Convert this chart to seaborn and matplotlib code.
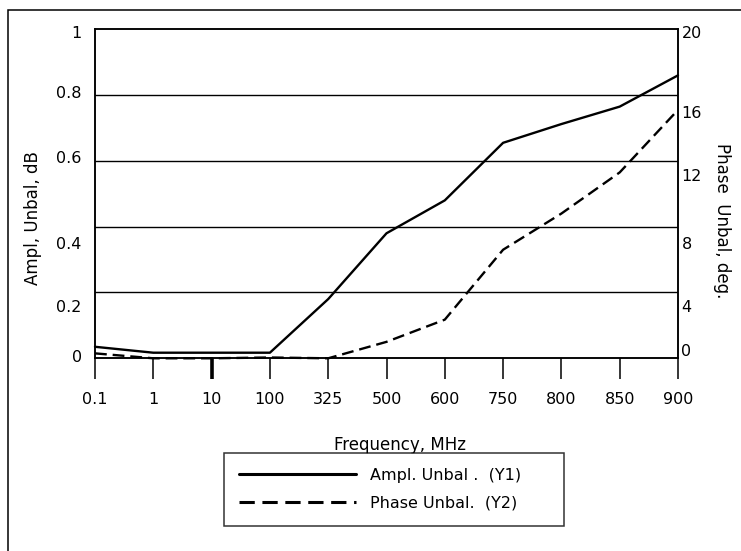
import matplotlib
matplotlib.use("Agg")
import matplotlib.pyplot as plt
import matplotlib.transforms as mtransforms
from matplotlib.patches import Rectangle
import numpy as np
import pandas as pd
import seaborn as sns

# ---- data ----
freq_labels = ["0.1", "1", "10", "100", "325", "500", "600", "750", "800", "850", "900"]
ampl_unbal = [0.035, 0.017, 0.017, 0.017, 0.18, 0.38, 0.48, 0.655, 0.712, 0.765, 0.86]
phase_unbal = [0.3, 0.0, 0.0, 0.05, 0.0, 1.0, 2.35, 6.6, 8.8, 11.3, 15.1]
left_ticks = [0, 0.2, 0.4, 0.6, 0.8, 1.0]
left_tick_labels = ["0", "0.2", "0.4", "0.6", "0.8", "1"]
right_ticks = [0, 4, 8, 12, 16, 20]
right_tick_labels = ["0", "4", "8", "12", "16", "20"]

sns.set_style("white")
plt.rcParams["font.family"] = ["DejaVu Sans"]
plt.rcParams["text.color"] = "black"
plt.rcParams["axes.labelcolor"] = "black"
plt.rcParams["xtick.color"] = "black"
plt.rcParams["ytick.color"] = "black"
plt.rcParams["xtick.labelcolor"] = "black"
plt.rcParams["ytick.labelcolor"] = "black"

df = pd.DataFrame({"Frequency": freq_labels, "Ampl": ampl_unbal, "Phase": phase_unbal})

W, H = 741, 551
fig = plt.figure(figsize=(W / 100, H / 100), dpi=100)
fig.patch.set_facecolor("white")

L, R, T, B = 95, 678, 29.3, 358.3
ax = fig.add_axes([L / W, 1 - B / H, (R - L) / W, (B - T) / H])
ax2 = ax.twinx()

sns.lineplot(data=df, x="Frequency", y="Ampl", ax=ax, color="black", lw=1.7,
             sort=False, label="Ampl. Unbal .  (Y1)", clip_on=False)
sns.lineplot(data=df, x="Frequency", y="Phase", ax=ax2, color="black", lw=1.7,
             sort=False, label="Phase Unbal.  (Y2)", clip_on=False)
ax2.lines[0].set_dashes([5, 2.5])

h1, l1 = ax.get_legend_handles_labels()
h2, l2 = ax2.get_legend_handles_labels()
for a in (ax, ax2):
    if a.get_legend() is not None:
        a.get_legend().remove()

ax.set_xlim(0, len(freq_labels) - 1)
ax.set_ylim(0, 1)
ax2.set_ylim(0, 20)

ax.set_yticks(left_ticks)
ax.set_yticklabels(left_tick_labels)
ax2.set_yticks(right_ticks)
ax2.set_yticklabels(right_tick_labels)

ax.grid(False)
ax2.grid(False)
for v in left_ticks[1:-1]:
    ax.axhline(v, color="black", lw=1.0, zorder=0.5)

for a in (ax, ax2):
    for s in a.spines.values():
        s.set_color("black")
        s.set_linewidth(1.1)
        s.set_visible(True)

ax.tick_params(axis="x", direction="out", length=15, width=1.1, color="black",
               labelcolor="black", labelsize=11.5, pad=9.5, bottom=True)
ax.tick_params(axis="y", length=0, pad=9.5, labelsize=11.5, labelcolor="black")
ax2.tick_params(axis="y", length=0, pad=2.5, labelsize=11.5, labelcolor="black")
ax.xaxis.get_major_ticks()[2].tick1line.set_markeredgewidth(2.6)

# label vertical offsets (pixels, positive = down) as in the reference
left_dy = [-2, 14, 16, -4, -3, 3]
right_dy = [-8, 14, 16, 14, 16.5, 3]
for lbl, dy in zip(ax.get_yticklabels(), left_dy):
    lbl.set_transform(lbl.get_transform() + mtransforms.ScaledTranslation(0, -dy / 100, fig.dpi_scale_trans))
for lbl, dy in zip(ax2.get_yticklabels(), right_dy):
    lbl.set_transform(lbl.get_transform() + mtransforms.ScaledTranslation(0, -dy / 100, fig.dpi_scale_trans))

ax.set_xlabel("")
ax.set_ylabel("")
ax2.set_ylabel("")

fig.text(400 / W, 1 - 445 / H, "Frequency, MHz", ha="center", va="center", fontsize=12)
fig.text(33 / W, 1 - 218 / H, "Ampl, Unbal, dB", ha="center", va="center",
         rotation=90, fontsize=12)
fig.text(722 / W, 1 - 221 / H, "Phase  Unbal, deg.", ha="center", va="center",
         rotation=-90, fontsize=12)

leg = fig.legend(h1 + h2, l1 + l2, loc="upper left",
                 bbox_to_anchor=(224 / W, 1 - 526 / H, 340 / W, 73.3 / H),
                 mode="expand", frameon=True, fancybox=False, edgecolor="black",
                 handlelength=7.3, handletextpad=0.9, fontsize=11.5,
                 borderpad=0.95, labelspacing=0.8, borderaxespad=0)
leg.get_frame().set_linewidth(1.1)
leg.get_frame().set_facecolor("white")
for lh in leg.get_lines():
    lh.set_linewidth(2.2)
for t in leg.get_texts():
    t.set_color("black")

# outer border
fig.patches.append(Rectangle((7.5 / W, -0.05), 1.0, 1 - 9.5 / H + 0.05,
                             transform=fig.transFigure, fill=False,
                             edgecolor="black", lw=1.1, clip_on=False))

fig.savefig("out.png", dpi=100, facecolor="white")
